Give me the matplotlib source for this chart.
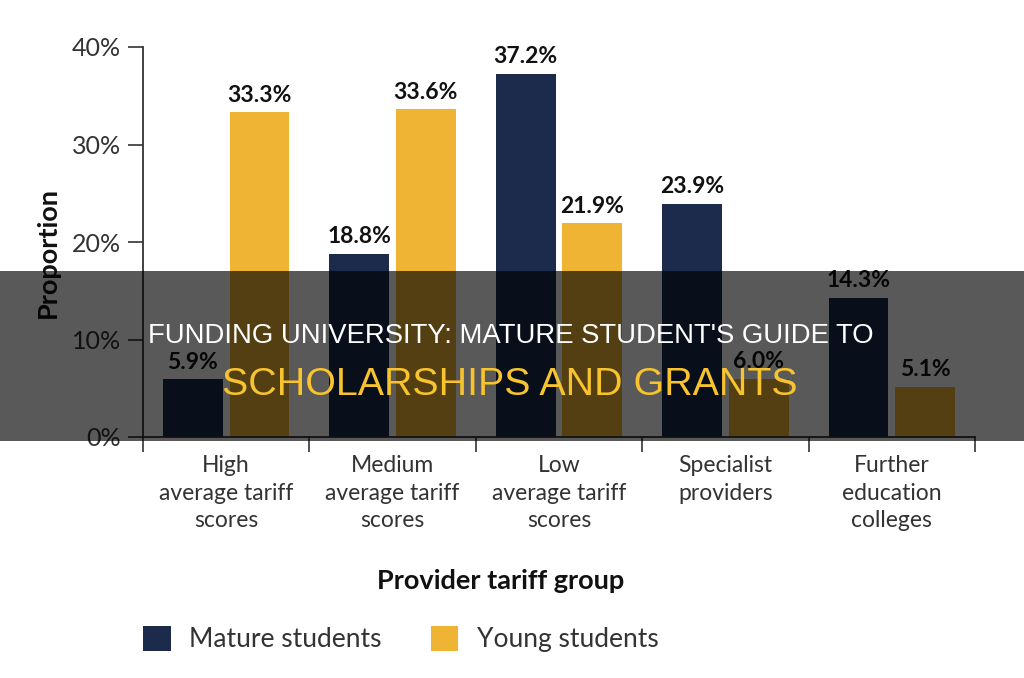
import matplotlib
matplotlib.use("Agg")
import matplotlib.pyplot as plt
from matplotlib.patches import Rectangle, Patch
import numpy as np

categories = ["High\naverage tariff\nscores", "Medium\naverage tariff\nscores",
              "Low\naverage tariff\nscores", "Specialist\nproviders",
              "Further\neducation\ncolleges"]
mature = [5.9, 18.8, 37.2, 23.9, 14.3]
young = [33.3, 33.6, 21.9, 6.0, 5.1]
series_names = ["Mature students", "Young students"]
yticks = [0, 10, 20, 30, 40]
title_line1 = "FUNDING UNIVERSITY: MATURE STUDENT'S GUIDE TO"
title_line2 = "SCHOLARSHIPS AND GRANTS"

navy = "#1c2b4b"
gold = "#f0b434"
txt = "#333333"

plt.rcParams['font.family'] = ['Lato', 'DejaVu Sans']

fig = plt.figure(figsize=(10.24, 6.78), dpi=100)
ax = fig.add_axes([143/1024, 1-437/678, (975-143)/1024, (437-47)/678])

x = np.arange(len(categories))
w = 0.36
ax.bar(x - 0.2, mature, w, color=navy)
ax.bar(x + 0.2, young, w, color=gold)
for xi, v in zip(x, mature):
    ax.text(xi - 0.2, v + 0.7, f"{v:.1f}%", ha='center', va='bottom',
            fontsize=16.5, fontweight='bold', color='#111111')
for xi, v in zip(x, young):
    ax.text(xi + 0.2, v + 0.7, f"{v:.1f}%", ha='center', va='bottom',
            fontsize=16.5, fontweight='bold', color='#111111')

ax.set_xlim(-0.5, len(categories) - 0.5)
ax.set_ylim(0, 40)
ax.set_yticks(yticks)
ax.set_yticklabels([f"{t}%" for t in yticks], fontsize=18, color=txt)
ax.set_xticks(x)
ax.set_xticklabels(categories, fontsize=16.5, color=txt, linespacing=1.38)
ax.set_xticks(np.arange(-0.5, len(categories), 1.0), minor=True)
ax.tick_params(axis='x', which='major', length=0, pad=13)
ax.tick_params(axis='x', which='minor', length=11, width=1.2, color=txt)
ax.tick_params(axis='y', length=11, width=1.2, color=txt, pad=5)
for s in ['top', 'right']:
    ax.spines[s].set_visible(False)
for s in ['left', 'bottom']:
    ax.spines[s].set_color(txt)
    ax.spines[s].set_linewidth(1.3)

ax.set_ylabel("Proportion", fontsize=19.5, fontweight='bold', color='#111111')
ax.yaxis.set_label_coords((60-143)/832, (437-252)/390)
ax.set_xlabel("Provider tariff group", fontsize=19.5, fontweight='bold', color='#111111')
ax.xaxis.set_label_coords((501-143)/832, -(569-437)/390)

handles = [Patch(facecolor=navy), Patch(facecolor=gold)]
fig.legend(handles, series_names, loc='center', bbox_to_anchor=(401/1024, 1-639/678),
           ncol=2, frameon=False, fontsize=19, handlelength=1.05, handleheight=1.1,
           handletextpad=0.7, columnspacing=1.85, labelcolor=txt)

fig.patches.append(Rectangle((0, 1-441/678), 1, 170/678, transform=fig.transFigure,
                             facecolor='black', alpha=0.65, zorder=10))
fig.text(511/1024, 1-343/678, title_line1, ha='center', va='baseline', color='white',
         fontsize=19.8, family=['Liberation Sans', 'DejaVu Sans'], zorder=11)
fig.text(510/1024, 1-395/678, title_line2, ha='center', va='baseline', color='#f7c32e',
         fontsize=28.4, family=['Liberation Sans', 'DejaVu Sans'], zorder=11)

fig.savefig("out.png", dpi=100)
